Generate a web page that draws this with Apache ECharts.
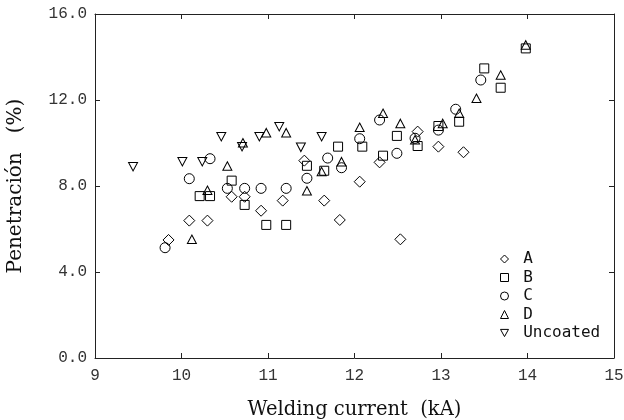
<!DOCTYPE html>
<html>
<head>
<meta charset="utf-8">
<script src="https://cdn.jsdelivr.net/npm/echarts@6/dist/echarts.min.js"></script>
<style>html,body{margin:0;padding:0;background:#fff;}#c{width:624px;height:420px;}</style>
</head>
<body>
<div id="c"></div>
<script>
var seriesNames = ['A', 'B', 'C', 'D', 'Uncoated'];
var dataA = [[9.85,5.49],[10.09,6.39],[10.30,6.39],[10.58,7.50],[10.73,7.50],[10.92,6.85],[11.17,7.32],[11.42,9.18],[11.65,7.32],[11.83,6.42],[12.06,8.20],[12.29,9.10],[12.53,5.52],[12.73,10.53],[12.97,9.83],[13.26,9.57]];
var dataB = [[10.21,7.53],[10.33,7.53],[10.58,8.25],[10.73,7.12],[10.98,6.19],[11.21,6.19],[11.45,8.94],[11.65,8.71],[11.81,9.83],[12.09,9.83],[12.33,9.41],[12.49,10.33],[12.73,9.86],[12.97,10.79],[13.21,10.99],[13.50,13.47],[13.69,12.57],[13.98,14.40]];
var dataC = [[9.81,5.13],[10.09,8.34],[10.33,9.27],[10.53,7.89],[10.73,7.89],[10.92,7.89],[11.21,7.89],[11.45,8.36],[11.69,9.30],[11.85,8.85],[12.06,10.20],[12.29,11.07],[12.49,9.52],[12.70,10.22],[12.97,10.60],[13.17,11.57],[13.46,12.93]];
var dataD = [[10.12,5.52],[10.30,7.80],[10.53,8.93],[10.71,10.01],[10.98,10.48],[11.21,10.48],[11.45,7.78],[11.62,8.67],[11.85,9.13],[12.06,10.73],[12.33,11.38],[12.53,10.91],[12.70,10.15],[13.02,10.91],[13.21,11.38],[13.41,12.08],[13.69,13.16],[13.98,14.56]];
var dataU = [[9.44,8.90],[10.01,9.13],[10.24,9.13],[10.46,10.29],[10.70,9.83],[10.90,10.29],[11.13,10.76],[11.38,9.80],[11.62,10.29]];
var xTicks = {min: 9, max: 15, step: 1};
var yTicks = {min: 0, max: 16, step: 4};

var symbols = ['diamond', 'rect', 'circle', 'triangle', 'path://M0,0 L10,0 L5,9 Z'];
var sizes = [11, 9, 10, [9, 8.5], [9, 8.5]];
var datas = [dataA, dataB, dataC, dataD, dataU];

var chart = echarts.init(document.getElementById('c'), null, {renderer: 'canvas'});
var labelFont = 'Liberation Mono';
var axisCol = '#222';
function xa(pos, showLabel) {
  return {
    type: 'value', position: pos, min: xTicks.min, max: xTicks.max, interval: xTicks.step,
    axisLine: {show: true, onZero: false, lineStyle: {color: axisCol, width: 1}},
    axisTick: {show: true, inside: true, length: 5, lineStyle: {color: axisCol}},
    axisLabel: {show: showLabel, fontFamily: labelFont, fontSize: 16, color: '#333', margin: 10},
    splitLine: {show: false},
    name: showLabel ? 'Welding current  (kA)' : '',
    nameLocation: 'middle', nameGap: 42,
    nameTextStyle: {fontFamily: 'DejaVu Serif', fontSize: 19.5, color: '#111'}
  };
}
function ya(pos, showLabel) {
  return {
    type: 'value', position: pos, min: yTicks.min, max: yTicks.max, interval: yTicks.step,
    axisLine: {show: true, onZero: false, lineStyle: {color: axisCol, width: 1}},
    axisTick: {show: true, inside: true, length: 5, lineStyle: {color: axisCol}},
    axisLabel: {show: showLabel, fontFamily: labelFont, fontSize: 16, color: '#333', margin: 8,
      formatter: function (v) { return v.toFixed(1); }},
    splitLine: {show: false},
    name: showLabel ? 'Penetración   (%)' : '',
    nameLocation: 'middle', nameGap: 69,
    nameTextStyle: {fontFamily: 'DejaVu Serif', fontSize: 20, color: '#111'}
  };
}
var series = seriesNames.map(function (n, i) {
  return {
    name: n, type: 'scatter', xAxisIndex: 0, yAxisIndex: 0,
    symbol: symbols[i], symbolSize: sizes[i],
    itemStyle: {color: 'rgba(0,0,0,0)', borderColor: '#000', borderWidth: 1, opacity: 1},
    emphasis: {disabled: true},
    data: datas[i]
  };
});
chart.setOption({
  animation: false,
  backgroundColor: '#fff',
  grid: {left: 95, right: 10, top: 14, bottom: 62, containLabel: false, outerBoundsMode: 'none'},
  xAxis: [xa('bottom', true), xa('top', false)],
  yAxis: [ya('left', true), ya('right', false)],
  legend: {
    orient: 'vertical', left: 495, top: 246,
    itemWidth: 8, itemHeight: 8, itemGap: 2.5,
    itemStyle: {color: 'rgba(0,0,0,0)', borderColor: '#000', borderWidth: 1},
    formatter: function (n) { return ' ' + n; },
    textStyle: {fontFamily: 'DejaVu Sans Mono', fontSize: 16, color: '#111'},
    data: seriesNames
  },
  series: series
});
</script>
</body>
</html>
